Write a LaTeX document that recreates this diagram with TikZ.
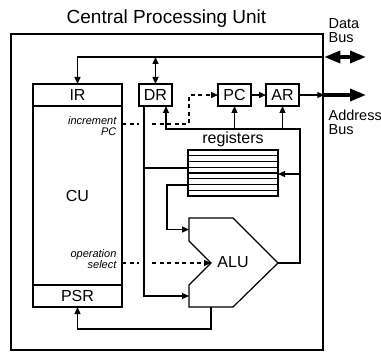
\documentclass[tikz,border=0pt]{standalone}
\usepackage{fontspec}
\setmainfont{Liberation Sans}
\usetikzlibrary{arrows.meta,positioning}
\newcommand{\lblfont}{\fontsize{16}{18}\selectfont}
\newcommand{\ttlfont}{\fontsize{19}{22}\selectfont}
\newcommand{\busfont}{\fontsize{14.5}{14}\selectfont}
\newcommand{\sigfont}{\fontsize{11}{11}\selectfont\itshape}

\begin{document}
\begin{tikzpicture}[x=1pt, y=-1pt, line width=1.2pt,
    box/.style={draw, minimum height=22pt, minimum width=#1, inner sep=0pt, outer sep=0pt, font=\lblfont},
    box/.default=33pt,
    arr/.style={-{Triangle[length=7pt,width=6pt]}},
    darr/.style={{Triangle[length=7pt,width=6pt]}-{Triangle[length=7pt,width=6pt]}},
    bus/.style={-{Triangle[length=16pt,width=12pt]}, line width=3.5pt},
    bibus/.style={{Triangle[length=16pt,width=12pt]}-{Triangle[length=16pt,width=12pt]}, line width=3.5pt},
    sig/.style={dash pattern=on 4pt off 3.5pt},
    hop/.style={draw=white, line width=11pt},
    txt/.style={inner sep=0pt, anchor=north west, align=left, font=\busfont}
]
\useasboundingbox (0,0) rectangle (381,353);

\node[draw, line width=2.5pt, minimum width=312pt, minimum height=316pt, inner sep=0pt] (cpu) at (167,192) {};
\node[font=\ttlfont, anchor=base] (title) at (166.5,24) {Central Processing Unit};

\node[box=89pt] (ir) at (77.5,95) {IR};
\node[box=89pt, minimum height=179pt, below=0pt of ir] (cu) {CU};
\node[box=89pt, below=0pt of cu] (psr) {PSR};
\draw[line width=2pt] (ir.south west) -- (ir.south east);
\draw[line width=2pt] (psr.north west) -- (psr.north east);

\node[box] (dr) at (155.5,95) {DR};
\node[box] (pc) at (234.5,95) {PC};
\node[box, right=15pt of pc] (ar) {AR};

\node[draw, minimum width=90pt, minimum height=46pt, inner sep=0pt, outer sep=0pt] (reg) at (233,173) {};
\foreach \k in {1,...,7}
    \draw (188,{150+5.75*\k}) -- (278,{150+5.75*\k});
\node[font=\lblfont, anchor=base] (reglbl) at (233,144) {registers};

\draw (189,218) -- (233,218) -- (278,263) -- (233,307) -- (189,307) -- (189,285) -- (211,263) -- (189,241) -- cycle;
\node[font=\lblfont] (alu) at (233,262) {ALU};
\coordinate (aluin1) at (189,229.5);
\coordinate (aluin2) at (189,296);
\coordinate (alusel) at (211,263);
\coordinate (aluout) at (278,263);
\coordinate (aluflag) at (211,307);

\coordinate (dbus) at (cpu.east |- 0,57);
\coordinate (dbusend) at (366,57);
\coordinate (abus) at (cpu.east |- ar.east);
\coordinate (abusend) at (366,95);
\coordinate (fb) at (300,129);
\coordinate (drtap) at ([xshift=5pt]dr.south west);
\coordinate (inc) at (cu.east |- 0,124);

% buses
\draw[arr] (dbus) -| (ir.north);
\draw[bibus] (dbus) -- (dbusend);
\draw[darr] (dr.north |- dbus) -- (dr.north);
\draw[arr] (ar.east) -- (abus);
\draw[bus] (abus) -- (abusend);
\draw[arr] (pc) -- (ar);

% control signals
\draw[sig, arr] (inc) -- (inc -| 189,0) |- (pc.west);
\draw[sig, arr] (cu.east |- alusel) -- (alusel);
\path[hop] (drtap |- 0,115) -- (drtap |- 0,272);

\draw[arr] (drtap) |- (aluin2);
\draw (drtap |- 0,168) -- (reg.west |- 0,168);
\draw[arr] (reg.west |- 0,185) -- ++(-21,0) |- (aluin1);
\draw[arr] (aluout) -| (fb) -| ([xshift=-6pt]dr.south east);
\draw[arr] (pc.south |- fb) -- (pc.south);
\draw[arr] (ar.south |- fb) -- (ar.south);
\draw[arr] (fb |- 0,174) -- (reg.east |- 0,174);
\draw[arr] (aluflag) -- ++(0,22) -| (psr.south);

\node[txt] (dbuslbl) at (328,18) {Data\\Bus};
\node[txt] (abuslbl) at (328,109) {Address\\Bus};
\node[font=\sigfont, align=right, anchor=north east, inner sep=0pt] (inclbl) at (117,116) {increment\\PC};
\node[font=\sigfont, align=right, anchor=north east, inner sep=0pt] (sellbl) at (117,249) {operation\\select};
\end{tikzpicture}
\end{document}
